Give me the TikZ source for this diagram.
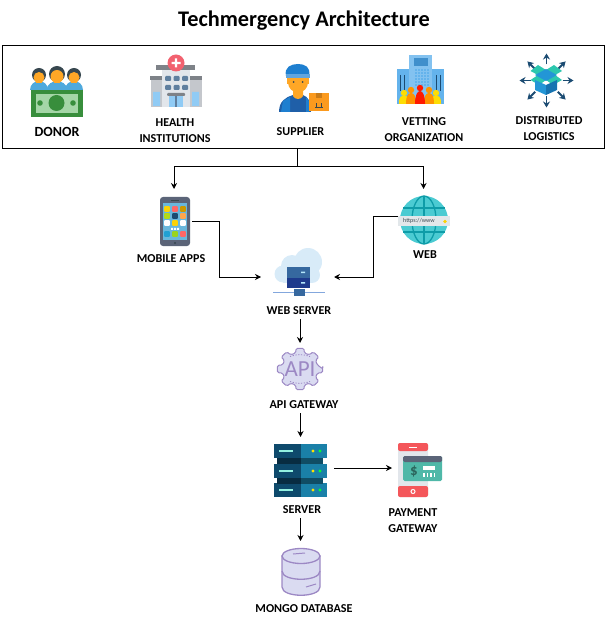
\documentclass[tikz,border=0pt]{standalone}
\usepackage{fontspec}
\setmainfont{Carlito}
\usetikzlibrary{positioning,arrows.meta}
\definecolor{greendark}{HTML}{388E3C}
\definecolor{greenlight}{HTML}{A5D6A7}
\definecolor{skin}{HTML}{FFA726}
\definecolor{hair}{HTML}{37474F}
\definecolor{shirt}{HTML}{4FA9DD}
\definecolor{capblue}{HTML}{1E7FD0}
\definecolor{overall}{HTML}{1F5FA8}
\definecolor{crate}{HTML}{FB9A1E}
\definecolor{crossred}{HTML}{F2616F}
\definecolor{wall}{HTML}{E2E6EB}
\definecolor{wing}{HTML}{C4C7CC}
\definecolor{roof}{HTML}{7E8288}
\definecolor{glass}{HTML}{90CBF5}
\definecolor{pane}{HTML}{5F7F9F}
\definecolor{tower}{HTML}{64B3EC}
\definecolor{towerdark}{HTML}{3F8FCC}
\definecolor{navy}{HTML}{1B4B72}
\definecolor{flap}{HTML}{2CC7AE}
\definecolor{boxleft}{HTML}{2396D6}
\definecolor{boxright}{HTML}{1673B0}
\definecolor{phone}{HTML}{5B6478}
\definecolor{screen}{HTML}{69B7DC}
\definecolor{globefill}{HTML}{4BCBD2}
\definecolor{globeline}{HTML}{0E9CA8}
\definecolor{band}{HTML}{E2E7EA}
\definecolor{cloud}{HTML}{D8EBF8}
\definecolor{rackup}{HTML}{36689F}
\definecolor{racklow}{HTML}{1D3A8C}
\definecolor{gearfill}{HTML}{DADBF1}
\definecolor{gearline}{HTML}{9C88C4}
\definecolor{rackdark}{HTML}{0E4A6C}
\definecolor{racklight}{HTML}{1A80A8}
\definecolor{paycard}{HTML}{4FB8A8}
\definecolor{payred}{HTML}{F4565A}
\tikzset{icon node/.style={inner sep=0pt,outer sep=0pt,minimum width=#1},
    main label/.style={inner sep=0pt,align=center,font=\bfseries\fontsize{12.1}{16}\selectfont},
    flow/.style={-{Stealth[length=6pt,width=6pt]},line width=0.9pt},
    main box/.style={draw,line width=1pt,inner sep=0pt}}

\begin{document}
\begin{tikzpicture}[x=1pt,y=-1pt]
    \useasboundingbox (0,0) rectangle (605,617);

    \node[inner sep=0pt,font=\bfseries\fontsize{22.3}{26}\selectfont] (title) at (304,20.5) {Techmergency Architecture};
    \node[main box,minimum width=602pt,minimum height=103pt] (users) at (303,97.5) {};

    \node[icon node=54pt,minimum height=54pt] (donor) at (57,92) {};
    \node[icon node=54pt,minimum height=54pt] (health) at (176,81) {};
    \node[icon node=58pt,minimum height=49pt] (supplier) at (300.5,87.5) {};
    \node[icon node=48pt,minimum height=50pt] (vetting) at (420.5,80) {};
    \node[icon node=54pt,minimum height=53pt] (logistics) at (546.5,80.5) {};
    \node[icon node=36pt,minimum height=64pt] (mobile) at (174,221) {};
    \node[icon node=51pt,minimum height=54pt] (web) at (423.5,216) {};
    \node[icon node=73pt,minimum height=40pt] (webserver) at (297.5,277) {};
    \node[icon node=50pt,minimum height=52pt] (api) at (300,369) {};
    \node[icon node=67pt,minimum height=62pt] (server) at (300.5,468) {};
    \node[icon node=52pt,minimum height=58pt] (payment) at (418,470) {};
    \node[icon node=40pt,minimum height=62pt] (mongo) at (300.5,572) {};

    \node[main label,font=\bfseries\fontsize{14}{16}\selectfont] (donorlabel) [below = 8pt of donor] {DONOR};
    \node[main label] (healthlabel) [below = 10pt of health, xshift=-1pt] {HEALTH\\INSTITUTIONS};
    \node[main label] (supplierlabel) [below = 15pt of supplier] {SUPPLIER};
    \node[main label] (vettinglabel) [below = 12pt of vetting, xshift=3.5pt] {VETTING\\ORGANIZATION};
    \node[main label] (logisticslabel) [below = 9pt of logistics, xshift=2.5pt] {DISTRIBUTED\\LOGISTICS};
    \node[main label] (mobilelabel) [below = 1pt of mobile, xshift=-3pt] {MOBILE APPS};
    \node[main label] (weblabel) [below = 7pt of web, xshift=1.5pt] {WEB};
    \node[main label] (webserverlabel) [below = 9pt of webserver, xshift=1.5pt] {WEB SERVER};
    \node[main label] (apilabel) [below = 5pt of api, xshift=4pt] {API GATEWAY};
    \node[main label] (serverlabel) [below = 6pt of server, xshift=1.5pt] {SERVER};
    \node[main label] (paymentlabel) [below = 9pt of payment, xshift=-5pt] {PAYMENT\\GATEWAY};
    \node[main label] (mongolabel) [below = 1pt of mongo, xshift=3.5pt] {MONGO DATABASE};

    \coordinate (split) at (297.5,166);
    \draw[line width=0.9pt] (users.south -| split) -- (split);
    \draw[flow] (split) -| (mobile.north);
    \draw[flow] (split) -| (web.north);
    \draw[flow] (mobile.east) -- ++(27,0) |- (webserver.west);
    \draw[flow] (web.west) -- ++(-25,0) |- (webserver.east);
    \draw[flow,shorten <=5pt] (webserverlabel.south -| api.north) -- (api.north);
    \draw[flow,shorten <=5pt] (apilabel.south -| server.north) -- (server.north);
    \draw[flow,shorten <=5pt] (serverlabel.south -| server.north) -- (mongo.north);
    \draw[flow] (server.east) -- (server.east -| payment.west);

    \foreach \px/\py/\pr/\pw in {39/75/7/9,74/75/7/9,57/74/8/10.5} {
        \fill[shirt] (\px-\pw,90) .. controls (\px-\pw,84) and (\px-4,81) .. (\px,81) .. controls (\px+4,81) and (\px+\pw,84) .. (\px+\pw,90) -- cycle;
        \fill[skin] (\px-3,\py) rectangle (\px+3,\py+\pr+1.5);
        \fill[hair] (\px,\py) circle (\pr);
        \fill[skin] (\px,\py+2.5) circle (\pr-1.5);
    }
    \fill[greendark] (31,90) rectangle (83,117);
    \fill[greenlight] (36,94) rectangle (78,113);
    \fill[greendark] (56.5,103) circle (8) (40,103) circle (2.8) (73,103) circle (2.8);

    \fill[wing] (151,80) rectangle (202,107);
    \fill[roof] (150,76) rectangle (202,80.5);
    \fill[glass] (153,92) rectangle (160,106) (192,92) rectangle (199,106);
    \fill[wall] (162,68) rectangle (190,107);
    \fill[roof] (156,65) rectangle (195,70);
    \foreach \wx in {165,173.5,182} \foreach \wy in {76,85} {
        \fill[pane,rounded corners=1pt] (\wx,\wy) rectangle ++(6,5);
    }
    \fill[glass] (169,96) rectangle (183,107);
    \draw[pane,line width=1.2pt] (176,96) -- (176,107);
    \fill[roof,rounded corners=1pt] (167,93) rectangle (185,96);
    \fill[crossred] (176,63) circle (8.5);
    \fill[white] (174.8,58.5) rectangle (177.2,67.5) (171.5,61.8) rectangle (180.5,64.2);

    \fill[overall] (279,112) .. controls (279,101) and (286,97) .. (293,95) -- (303,95) .. controls (308,97) and (311,101) .. (311,112) -- cycle;
    \fill[capblue] (281,112) -- (283,101) -- (290,97) -- (290,112) -- cycle (306,97) -- (309,101) -- (309,112) -- (306,112) -- cycle;
    \fill[skin] (293,88) -- (303,88) -- (303,96) .. controls (301,100) and (295,100) .. (293,96) -- cycle;
    \fill[skin] (287,78) rectangle (309,84);
    \fill[skin] (298,82.5) circle (10);
    \fill[capblue] (286,76) .. controls (284,67) and (291,64) .. (298,64) .. controls (305,64) and (311,67) .. (309,76) -- cycle;
    \fill[capblue!70!white] (286,74) -- (310,74) -- (310,78) -- (286,78) -- cycle;
    \fill[hair] (293.5,82) circle (1) (302.5,82) circle (1);
    \fill[crate] (309,93) rectangle (329,111);
    \fill[crate!80!black] (316,93) rectangle (322,98);
    \draw[hair,line width=0.7pt] (315,107) -- (323,107) (316.5,107) -- (316.5,103) (321.5,107) -- (321.5,103);

    \fill[tower] (397,69) rectangle (444,104);
    \fill[tower!80!white] (409,55) rectangle (432,104);
    \fill[towerdark] (414,58) rectangle (428,66);
    \foreach \wx in {415,418,...,427} \foreach \wy in {69,72,...,84} {
        \fill[tower] (\wx,\wy) rectangle ++(1.6,1.6);
    }
    \draw[navy,line width=1pt] (400.5,75) -- (400.5,91) (404.5,75) -- (404.5,91) (436.5,75) -- (436.5,91) (440.5,75) -- (440.5,91);
    \foreach \px/\py/\pc in {404/93/yellow!80!orange,436/93/yellow!80!orange,411/90/orange!85!yellow,429/90/orange!85!yellow,420/88/red!80!orange} {
        \fill[\pc] (\px,\py) circle (3.2);
        \fill[\pc] (\px-5,104) .. controls (\px-5,96) and (\px-3,\py+3) .. (\px,\py+3) .. controls (\px+3,\py+3) and (\px+5,96) .. (\px+5,104) -- cycle;
    }

    \begin{scope}[shift={(546.5,80.5)}]
        \foreach \a in {0,45,...,315} {
            \draw[navy,line width=1.9pt,-{Stealth[length=6pt,width=7pt]}] (\a:16) -- (\a:27);
        }
    \end{scope}
    \fill[flap] (546,70) -- (538,65) -- (530.5,71) -- (538,75) -- cycle (546,70) -- (554,65) -- (562,71) -- (555,75) -- cycle;
    \fill[flap] (538,75) -- (530.5,80) -- (539,85) -- (546,80) -- cycle (555,75) -- (562,80) -- (553,85) -- (546,80) -- cycle;
    \fill[boxleft] (546,69) -- (557,75) -- (546,81) -- (535,75) -- cycle;
    \fill[boxleft] (535,80) -- (546,85) -- (546,95) -- (535,90) -- cycle;
    \fill[boxright] (557,80) -- (546,85) -- (546,95) -- (557,90) -- cycle;

    \fill[phone,rounded corners=3pt] (160,197) rectangle (190,246);
    \fill[screen] (163,203) rectangle (187,240);
    \foreach \tx/\ty/\tc in {167/209/yellow!70!orange,175/209/red!60!white,183/209/orange!80!green,167/216/yellow!70!green,175/216/navy,183/216/orange!70!white,167/223/white,175/223/yellow!70!orange,183/223/white,167/234/cyan!70!teal,175/234/yellow!60!green,183/234/red!60!white} {
        \fill[\tc,rounded corners=0.8pt] (\tx-2.8,\ty-2.8) rectangle (\tx+2.8,\ty+2.8);
    }
    \fill[white] (171,228) rectangle (173,230) (174,228) rectangle (176,230) (177,228) rectangle (179,230);
    \fill[hair] (175,243) circle (1.2);
    \fill[hair] (171,200) rectangle (179,201);

    \fill[globefill] (424,220) circle (24);
    \draw[globeline,line width=1.3pt] (424,196) -- (424,244) (400,220) -- (448,220) (403,208) -- (445,208) (403,232) -- (445,232);
    \draw[globeline,line width=1.3pt] (424,220) ellipse (12 and 24);
    \fill[band] (398,216.5) rectangle (450,226);
    \node[inner sep=0pt,text=hair,font=\fontsize{6}{7}\selectfont] (url) at (419,221) {https://www};
    \fill[yellow!70!orange] (445,221.5) circle (1.8);

    \fill[cloud] (308,262) circle (14) (292,266) circle (11) (283,274) circle (8.5) (312,275) circle (8);
    \fill[cloud] (283,270) rectangle (312,283);
    \draw[cyan!50!blue!50!white,line width=1pt] (273,292.5) -- (325,292.5);
    \fill[rackup] (287,267) rectangle (310,277.5);
    \fill[racklow] (287,277.5) rectangle (310,288);
    \fill[rackup] (294,289) rectangle (305,296);
    \fill[white!70!cyan] (301,271.5) rectangle (305,273) (301,282) rectangle (305,283.5);

    \begin{scope}[shift={(300,369)}]
        \draw[gearline,fill=gearfill,line width=1pt,rounded corners=1.5pt] (0:23 and 21)
            foreach \a in {0,45,...,315} {
                -- (\a-10:23 and 21) -- (\a+10:23 and 21) -- (\a+14:18 and 16.5) -- (\a+31:18 and 16.5)
            } -- cycle;
        \draw[gearline,dash pattern=on 1.2pt off 1.6pt,line width=0.9pt] (-10,-12.5) .. controls (-4,-15) and (4,-15) .. (10,-12.5) (-10,12.5) .. controls (-4,15) and (4,15) .. (10,12.5);
        \node[inner sep=0pt,text=gearline,font=\fontsize{23}{24}\selectfont] (apitext) at (0,0) {API};
    \end{scope}

    \foreach \ry in {444,464,483} {
        \fill[rackdark] (274,\ry) rectangle (301,\ry+13.5);
        \fill[racklight] (301,\ry) rectangle (327,\ry+13.5);
        \fill[greenlight!50!white!70!cyan] (279,\ry+5.5) rectangle (293,\ry+8);
        \fill[yellow!85!orange] (313,\ry+7) circle (1.6);
        \fill[green!80!cyan] (320,\ry+7) circle (1.6);
    }
    \foreach \ry in {457.5,477.5} {
        \fill[rackdark!60!black] (277,\ry) rectangle (301,\ry+6);
        \fill[racklight!60!black] (301,\ry) rectangle (323,\ry+6);
    }

    \fill[wall,rounded corners=2pt] (398,443) rectangle (428,497);
    \fill[payred,rounded corners=2pt] (398,443) rectangle (428,451);
    \fill[payred,rounded corners=2pt] (398,486) rectangle (428,497);
    \fill[white] (409,446.5) rectangle (417,448);
    \draw[white,line width=1pt] (413,491.5) circle (2);
    \fill[paycard,rounded corners=1.5pt] (403,456) rectangle (442,481);
    \fill[phone,rounded corners=1.5pt] (403,456) rectangle (442,462);
    \node[inner sep=0pt,text=paycard!55!black,font=\bfseries\fontsize{15}{16}\selectfont] (dollar) at (414,471) {\$};
    \fill[white] (423,466) rectangle (435,469.5);
    \foreach \tx in {423,426.5,430,433.5} {
        \fill[white] (\tx,473) rectangle ++(1.6,3.5);
    }

    \draw[gearline,fill=gearfill,line width=1.3pt] (282,556) -- (282,587) .. controls (282,598) and (320,598) .. (320,587) -- (320,556) -- cycle;
    \draw[gearline,line width=1.3pt] (282,571) .. controls (282,582) and (320,582) .. (320,571);
    \draw[gearline,fill=gearfill,line width=1.3pt] (301,556) ellipse (19 and 7.5);
    \draw[gearline,line width=1pt] (293,554) -- (305,553) (306,587) -- (316,584);
\end{tikzpicture}
\end{document}
